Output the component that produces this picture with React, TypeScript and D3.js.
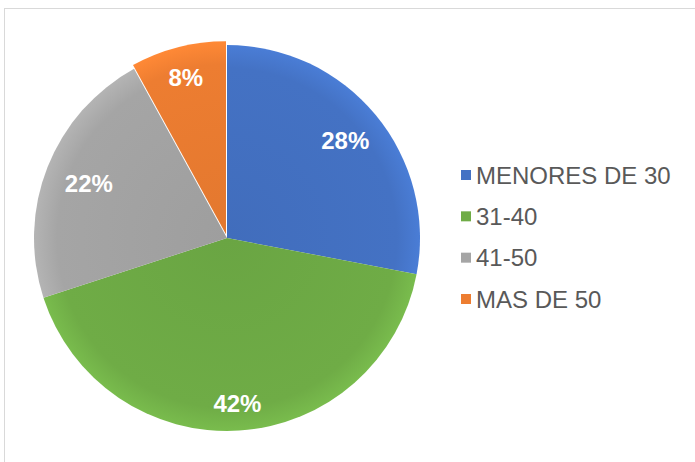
import React from "react";
import * as d3 from "d3";

const categories = ["MENORES DE 30", "31-40", "41-50", "MAS DE 50"];
const values = [28, 42, 22, 8];
const colors = ["#4472C4", "#6FAC46", "#A5A5A5", "#ED7D31"];
const labelRadius = [0.795, 0.86, 0.77, 0.86];
const explode = [0, 0, 0, 4];

export default function App() {
  const W = 695, H = 462;
  const cx = 227, cy = 238, r = 193;
  const pie = d3.pie<number>().sort(null).value((d) => d)(values);
  const arc = d3.arc<d3.PieArcDatum<number>>().innerRadius(0).outerRadius(r);
  const legendY = d3.scalePoint<string>().domain(categories).range([175, 299]);
  return (
    <svg width={W} height={H} style={{ position: "absolute", left: 0, top: 0 }}>
      <defs>
        {colors.map((c, i) => (
          <radialGradient key={i} id={`g${i}`} cx={0} cy={0} r={r} gradientUnits="userSpaceOnUse">
            <stop offset="0%" stopColor={d3.color(c)!.darker(0.12).toString()} />
            <stop offset="88%" stopColor={c} />
            <stop offset="100%" stopColor={d3.color(c)!.brighter(0.25).toString()} />
          </radialGradient>
        ))}
      </defs>
      <rect x={0} y={0} width={W} height={H} fill="#fff" />
      <rect x={4.5} y={8.5} width={W + 10} height={H + 10} fill="#fff" stroke="#d9d9d9" />
      <g transform={`translate(${cx},${cy})`}>
        {pie.map((p, i) => {
          const mid = (p.startAngle + p.endAngle) / 2;
          const dx = Math.sin(mid) * explode[i];
          const dy = -Math.cos(mid) * explode[i];
          return (
            <path key={i} d={arc(p)!} fill={`url(#g${i})`} stroke="none" transform={`translate(${dx},${dy})`} />
          );
        })}
        {pie.map((p, i) => {
          const mid = (p.startAngle + p.endAngle) / 2;
          const rr = r * labelRadius[i];
          const x = Math.sin(mid) * rr;
          const y = -Math.cos(mid) * rr;
          return (
            <text key={i} x={x} y={y} dy="0.36em" textAnchor="middle" fill="#fff"
              fontFamily="Liberation Sans, Arial, sans-serif" fontWeight="bold" fontSize={24}>
              {values[i]}%
            </text>
          );
        })}
      </g>
      {categories.map((c, i) => (
        <g key={c} transform={`translate(461,${legendY(c)})`}>
          <rect x={0} y={-5} width={10} height={10} fill={colors[i]} />
          <text x={15} y={0} dy="0.36em" fill="#595959" fontFamily="Liberation Sans, Arial, sans-serif" fontSize={24}>
            {c}
          </text>
        </g>
      ))}
    </svg>
  );
}
